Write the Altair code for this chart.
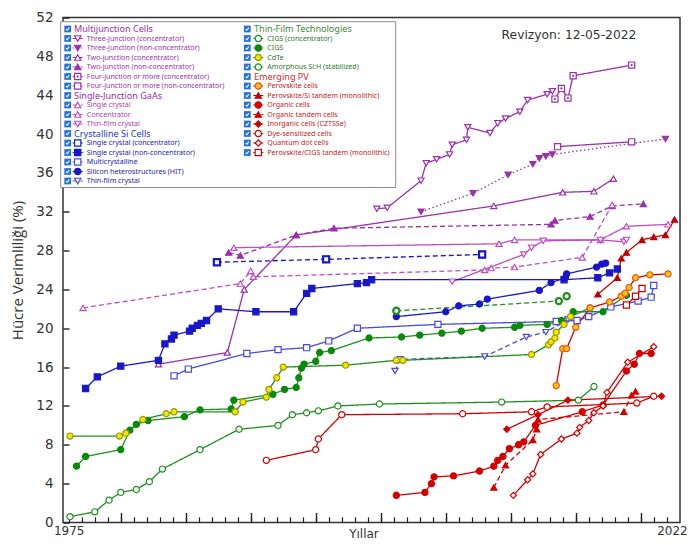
import altair as alt
import pandas as pd

# ---------------- data: (year, efficiency %) ----------------
three_junction_conc = [(1999.7, 32.3), (2000.5, 32.4), (2003.1, 35.2), (2003.5, 37.0), (2004.3, 37.4),
                       (2005.3, 37.9), (2005.5, 38.9), (2006.6, 39.4), (2006.7, 40.7), (2008.4, 40.1),
                       (2009.0, 41.1), (2009.6, 41.6), (2010.7, 42.3), (2011.3, 43.5), (2012.8, 44.1),
                       (2013.2, 44.4)]
three_junction_nonconc = [(2003.1, 32.0), (2007.1, 33.9), (2009.8, 35.8), (2011.7, 36.9), (2012.2, 37.5),
                          (2012.7, 37.7), (2013.2, 37.9), (2021.9, 39.5)]
two_junction_conc = [(1982.9, 16.3), (1988.2, 17.5), (1989.5, 24.0), (1993.5, 29.6), (2008.7, 32.6),
                     (2014.0, 34.0), (2016.4, 34.1), (2017.9, 35.4)]
two_junction_nonconc = [(1988.3, 27.8), (1989.2, 27.5), (1993.5, 29.6), (1996.4, 30.3), (2013.1, 30.7),
                        (2013.4, 31.1), (2016.1, 31.5), (2017.8, 32.6), (2020.2, 32.8)]
four_junction_conc = [(2013.4, 43.6), (2013.9, 44.7), (2014.4, 43.7), (2014.8, 46.0), (2019.3, 47.1)]
four_junction_nonconc = [(2013.6, 38.7), (2019.3, 39.2)]
gaas_single = [(1977.1, 22.1), (1989.2, 24.6), (1990.0, 25.9), (1990.2, 25.3), (2008.0, 26.0),
               (2008.5, 26.2), (2010.3, 26.3), (2015.5, 27.3), (2017.8, 32.7)]
gaas_conc = [(1988.7, 28.3), (2009.1, 28.7), (2010.3, 29.1), (2016.9, 29.1), (2018.9, 30.5), (2022.1, 30.7)]
gaas_thin = [(2005.5, 24.8), (2011.0, 27.6), (2011.6, 28.3), (2012.5, 29.0), (2016.9, 29.1),
             (2018.7, 28.9), (2018.9, 29.1)]
si_conc = [(1987.4, 26.8), (1995.8, 27.1), (2007.8, 27.6)]
si_single = [(1977.3, 13.8), (1978.2, 15.0), (1980.0, 16.1), (1982.9, 16.7), (1983.4, 18.4), (1983.9, 18.9),
             (1984.1, 19.3), (1985.3, 19.7), (1985.5, 20.0), (1985.9, 20.3), (1986.2, 20.5), (1986.6, 20.8),
             (1987.5, 22.0), (1990.4, 21.7), (1993.3, 21.7), (1994.3, 23.6), (1994.7, 24.1), (1998.2, 24.6),
             (1998.9, 24.7), (1999.3, 25.0), (2014.1, 25.0), (2016.7, 25.2), (2017.6, 25.7), (2018.2, 26.1)]
si_multi = [(1984.1, 15.1), (1985.2, 15.8), (1989.7, 17.4), (1992.1, 17.8), (1994.3, 18.0), (1996.0, 18.7),
            (1998.2, 20.0), (2004.4, 20.4), (2013.5, 20.7), (2015.1, 20.8), (2016.0, 21.2), (2017.7, 22.2),
            (2019.8, 22.8), (2020.8, 23.2), (2021.0, 24.4)]
si_hit = [(2001.2, 21.2), (2005.0, 21.7), (2006.0, 22.3), (2007.6, 22.5), (2008.2, 23.0), (2012.2, 23.9),
          (2013.1, 24.7), (2014.2, 25.2), (2014.3, 25.6), (2016.6, 26.3), (2017.0, 26.6), (2017.3, 26.7)]
si_thin = [(2001.1, 15.6), (2001.5, 16.8), (2008.0, 17.1), (2011.2, 19.1), (2012.7, 19.6), (2014.4, 20.9)]
cigs_conc = [(2001.2, 21.8), (2013.7, 22.8), (2014.3, 23.3)]
cigs = [(1976.6, 5.8), (1977.3, 6.8), (1980.0, 7.5), (1980.7, 9.5), (1981.2, 10.1), (1982.1, 10.5),
        (1984.9, 10.9), (1986.1, 11.6), (1988.5, 11.7), (1988.7, 12.6), (1991.7, 13.2), (1992.6, 13.7),
        (1993.5, 13.9), (1993.7, 14.9), (1993.9, 15.9), (1994.1, 16.3), (1995.0, 16.6), (1995.3, 17.5),
        (1996.2, 17.7), (1999.1, 19.0), (2001.6, 19.1), (2003.0, 19.3), (2004.7, 19.5), (2006.2, 19.7),
        (2007.8, 20.0), (2010.3, 20.1), (2010.7, 20.3), (2012.8, 20.4), (2013.9, 20.8), (2014.8, 21.7),
        (2017.1, 21.7), (2018.9, 23.4)]
cdte = [(1976.1, 8.9), (1979.9, 8.9), (1980.4, 9.2), (1981.7, 10.6), (1983.5, 11.2), (1984.1, 11.4),
        (1988.8, 11.4), (1989.4, 12.4), (1991.2, 12.9), (1991.4, 13.7), (1992.0, 14.9), (1992.5, 16.0),
        (1997.3, 16.2), (2001.2, 16.7), (2001.7, 16.7), (2011.6, 17.3), (2012.9, 18.3), (2013.1, 18.6),
        (2013.4, 19.0), (2013.5, 19.6), (2014.1, 20.4), (2014.6, 21.2), (2016.1, 22.1)]
amorphous_si = [(1976.1, 0.6), (1978.0, 1.1), (1979.1, 2.3), (1980.0, 3.1), (1981.2, 3.4), (1982.2, 4.2),
                (1983.2, 5.5), (1986.1, 7.5), (1989.1, 9.6), (1992.1, 10.0), (1993.2, 11.1), (1994.3, 11.3),
                (1995.2, 11.5), (1996.7, 12.0), (1999.9, 12.2), (2009.3, 12.4), (2015.2, 12.6), (2016.4, 14.0)]
perovskite = [(2013.5, 14.1), (2014.0, 17.9), (2014.3, 17.9), (2015.0, 20.1), (2016.1, 22.1), (2017.6, 22.7),
              (2018.5, 23.3), (2018.8, 23.6), (2019.1, 24.2), (2019.6, 25.2), (2020.7, 25.5), (2022.1, 25.6)]
perovskite_si = [(2016.7, 23.5), (2018.2, 25.2), (2018.5, 27.2), (2018.9, 27.8), (2020.1, 29.1),
                 (2021.0, 29.4), (2021.9, 29.6), (2022.6, 31.2)]
organic = [(2001.2, 2.8), (2003.4, 3.1), (2003.9, 4.0), (2004.1, 4.7), (2005.6, 4.8), (2007.6, 5.3),
           (2008.7, 5.8), (2009.0, 6.4), (2009.4, 6.8), (2009.9, 7.6), (2010.6, 8.0), (2011.0, 8.3),
           (2011.9, 10.0), (2015.5, 11.4), (2017.1, 12.1), (2018.9, 15.6), (2019.5, 16.3), (2019.9, 17.4),
           (2020.8, 17.4)]
organic_tandem = [(2008.7, 3.6), (2009.6, 5.9), (2011.7, 8.5), (2012.0, 9.6), (2012.1, 10.6), (2018.7, 11.4),
                  (2019.3, 13.1), (2019.6, 13.5)]
czts = [(2009.7, 9.6), (2012.1, 11.1), (2014.4, 12.6), (2021.6, 13.0)]
dye = [(1991.2, 6.4), (1995.0, 7.5), (1995.2, 8.6), (1997.0, 11.1), (2006.3, 11.2), (2011.6, 11.4),
       (2012.8, 11.9), (2019.7, 12.3), (2021.0, 13.0)]
quantum_dot = [(2010.2, 2.8), (2011.3, 4.4), (2011.7, 5.0), (2012.3, 7.0), (2013.9, 8.6), (2015.1, 9.2),
               (2015.3, 9.8), (2016.0, 10.5), (2016.4, 11.3), (2017.1, 12.0), (2017.4, 13.4), (2019.0, 16.5),
               (2021.0, 18.1)]
perovskite_cigs = [(2018.9, 22.4), (2019.6, 23.3), (2020.1, 24.1)]

x_minor_ticks = list(range(1976, 2023))
x_major_ticks = list(range(1980, 2021, 5))
x_label_values = [1976, 2022.4]
y_ticks = list(range(0, 53, 4))

# ---------------- styles ----------------
MJ, GA, SI, SIM, GR, RD = "#9a30ac", "#c04cc4", "#1818c8", "#4a4ae0", "#1f8f1f", "#d40000"
W = "white"
SOLID, DASH, DOT = [1, 0], [5, 3], [1.5, 2.5]

series = [
    ("mj3c", three_junction_conc, MJ, SOLID, "triangle-down", W, MJ),
    ("mj3n", three_junction_nonconc, MJ, DOT, "triangle-down", MJ, MJ),
    ("mj2c", two_junction_conc, MJ, SOLID, "triangle-up", W, MJ),
    ("mj2n", two_junction_nonconc, MJ, DASH, "triangle-up", MJ, MJ),
    ("mj4c", four_junction_conc, MJ, SOLID, "square", W, MJ),
    ("mj4n", four_junction_nonconc, MJ, SOLID, "square", W, MJ),
    ("gas", gaas_single, GA, DASH, "triangle-up", W, GA),
    ("gac", gaas_conc, GA, SOLID, "triangle-up", W, GA),
    ("gat", gaas_thin, GA, SOLID, "triangle-down", W, GA),
    ("sic", si_conc, SI, DASH, "square", W, SI),
    ("sin", si_single, SI, SOLID, "square", SI, SI),
    ("sim", si_multi, SIM, SOLID, "square", W, SIM),
    ("sih", si_hit, SI, SOLID, "circle", SI, SI),
    ("sit", si_thin, SIM, DASH, "triangle-down", W, SIM),
    ("tfcc", cigs_conc, GR, DASH, "circle", W, GR),
    ("tfc", cigs, GR, SOLID, "circle", "#0a8a0a", "#0a8a0a"),
    ("tfd", cdte, GR, SOLID, "circle", "#f0e600", "#9a9a00"),
    ("tfa", amorphous_si, GR, SOLID, "circle", W, GR),
    ("epp", perovskite, RD, SOLID, "circle", "#ffc20e", "#e8561c"),
    ("eps", perovskite_si, RD, SOLID, "triangle-up", "#c00000", "#c00000"),
    ("epo", organic, RD, SOLID, "circle", RD, RD),
    ("ept", organic_tandem, RD, DASH, "triangle-up", RD, RD),
    ("epi", czts, RD, SOLID, "diamond", RD, RD),
    ("epd", dye, RD, SOLID, "circle", W, RD),
    ("epq", quantum_dot, RD, SOLID, "diamond", W, RD),
    ("epc", perovskite_cigs, RD, SOLID, "square", W, RD),
]
keys = [s[0] for s in series]

df = pd.DataFrame([dict(key=s[0], idx=i, year=p[0], eff=p[1])
                   for s in series for i, p in enumerate(s[1])])

color_sc = alt.Scale(domain=keys, range=[s[2] for s in series])
dash_sc = alt.Scale(domain=keys, range=[s[3] for s in series])
shape_sc = alt.Scale(domain=keys, range=[s[4] for s in series])
fill_sc = alt.Scale(domain=keys, range=[s[5] for s in series])
stroke_sc = alt.Scale(domain=keys, range=[s[6] for s in series])

xs = alt.Scale(domain=[1975.56, 2023.02], nice=False, zero=False)
ys = alt.Scale(domain=[0, 52], nice=False, zero=False)

TICK = "#222222"
ax_minor = alt.Axis(values=x_minor_ticks, tickSize=5.7, offset=-5.7, labels=False, domain=False, grid=False,
                    title=None, orient="bottom", tickColor=TICK, tickWidth=1.2)
ax_major = alt.Axis(values=x_major_ticks, tickSize=10, offset=-10, labels=False, domain=False, grid=False,
                    title=None, orient="bottom", tickColor=TICK, tickWidth=1.4)
ax_labels = alt.Axis(values=x_label_values, labelExpr="datum.value < 2000 ? '1975' : '2022'",
                     ticks=False, tickSize=0, domain=False, grid=False, orient="bottom",
                     labelPadding=3, labelFont="DejaVu Sans", labelFontSize=12, labelColor="#333",
                     labelFlush=False, labelOverlap=False,
                     title="Yıllar", titleX=300.5, titleY=15, titleBaseline="alphabetic", titleAngle=0,
                     titleFont="DejaVu Sans", titleFontSize=12, titleFontWeight="normal", titleColor="#333")
ax_y = alt.Axis(values=y_ticks, tickSize=6, offset=-6, domain=False, grid=False, labelPadding=10,
                labelFont="DejaVu Sans", labelFontSize=13.5, labelColor="#333", tickColor=TICK, tickWidth=1.4,
                title="Hücre Verimliliği (%)", titleFont="Open Sans", titleFontSize=15,
                titleFontWeight="normal", titleColor="#333", titlePadding=10)
Y = alt.Y("eff:Q", scale=ys, axis=ax_y)

base = alt.Chart(df)
lines = base.mark_line(strokeWidth=1.3).encode(
    x=alt.X("year:Q", scale=xs, axis=ax_minor), y=Y,
    color=alt.Color("key:N", scale=color_sc, legend=None),
    strokeDash=alt.StrokeDash("key:N", scale=dash_sc, legend=None),
    detail="key:N", order="idx:Q")
marker_enc = dict(
    shape=alt.Shape("key:N", scale=shape_sc, legend=None),
    fill=alt.Fill("key:N", scale=fill_sc, legend=None),
    stroke=alt.Stroke("key:N", scale=stroke_sc, legend=None))
points = base.mark_point(filled=True, size=38, strokeWidth=1.2, opacity=1).encode(
    x=alt.X("year:Q", scale=xs, axis=ax_major), y=Y, **marker_enc)
thick = base.transform_filter(alt.FieldOneOfPredicate(field="key", oneOf=["sic", "tfcc"])).mark_point(
    filled=True, size=38, strokeWidth=2.2, opacity=1).encode(
    x=alt.X("year:Q", scale=xs, axis=None), y=Y, **marker_enc)
dots = base.transform_filter(alt.datum.key == "mj4c").mark_point(
    filled=True, shape="circle", size=5, color=MJ, opacity=1).encode(
    x=alt.X("year:Q", scale=xs, axis=ax_labels), y=Y)
note_df = pd.DataFrame({"year": [2014.48], "eff": [49.81], "t": ["Revizyon: 12-05-2022"]})
note = alt.Chart(note_df).mark_text(align="center", baseline="alphabetic", font="DejaVu Sans",
                                     fontSize=12.3, color="#333").encode(
    x=alt.X("year:Q", scale=xs, axis=None), y=Y, text="t:N")

data_group = alt.layer(lines, points, thick, dots, note).resolve_axis(x="independent")

# ---------------- legend (manual, two columns) ----------------
HEAD = {"mj": "#9a2cac", "ga": "#9a2cac", "si": "#1f3cc0", "tf": "#3a8a3a", "ep": "#d42a2a"}
ITEM = {"mj": "#9a30ac", "ga": "#a83cb0", "si": "#2222aa", "tf": "#2a7a2a", "ep": "#cc2222"}
legend_col1 = [("Multijunction Cells", None, "mj"),
               ("Three-junction (concentrator)", "mj3c", "mj"),
               ("Three-junction (non-concentrator)", "mj3n", "mj"),
               ("Two-junction (concentrator)", "mj2c", "mj"),
               ("Two-junction (non-concentrator)", "mj2n", "mj"),
               ("Four-junction or more (concentrator)", "mj4c", "mj"),
               ("Four-junction or more (non-concentrator)", "mj4n", "mj"),
               ("Single-Junction GaAs", None, "ga"),
               ("Single crystal", "gas", "ga"),
               ("Concentrator", "gac", "ga"),
               ("Thin-film crystal", "gat", "ga"),
               ("Crystalline Si Cells", None, "si"),
               ("Single crystal (concentrator)", "sic", "si"),
               ("Single crystal (non-concentrator)", "sin", "si"),
               ("Multicrystalline", "sim", "si"),
               ("Silicon heterostructures (HIT)", "sih", "si"),
               ("Thin-film crystal", "sit", "si")]
legend_col2 = [("Thin-Film Technologies", None, "tf"),
               ("CIGS (concentrator)", "tfcc", "tf"),
               ("CIGS", "tfc", "tf"),
               ("CdTe", "tfd", "tf"),
               ("Amorphous Si:H (stabilized)", "tfa", "tf"),
               ("Emerging PV", None, "ep"),
               ("Perovskite cells", "epp", "ep"),
               ("Perovskite/Si tandem (monolithic)", "eps", "ep"),
               ("Organic cells", "epo", "ep"),
               ("Organic tandem cells", "ept", "ep"),
               ("Inorganic cells (CZTSSe)", "epi", "ep"),
               ("Dye-sensitized cells", "epd", "ep"),
               ("Quantum dot cells", "epq", "ep"),
               ("Perovskite/CIGS tandem (monolithic)", "epc", "ep")]

COLS = [dict(cb=4.7, sym=14.7, item=23.7, head=11.0), dict(cb=184.3, sym=195.3, item=204.3, head=191.0)]
ROW0, ROWH = 11.5, 9.5
rows = []
for c, entries in enumerate([legend_col1, legend_col2]):
    L = COLS[c]
    for r, (label, key, grp) in enumerate(entries):
        head = key is None
        rows.append(dict(label=label, key=key if key else "", head=head, y=ROW0 + ROWH * r,
                         cbx=L["cb"], symx=L["sym"], x1=L["sym"] - 5, x2=L["sym"] + 5,
                         tx=L["head"] if head else L["item"],
                         tcolor=HEAD[grp] if head else ITEM[grp]))
leg = pd.DataFrame(rows)
items = leg[~leg["head"]]
heads = leg[leg["head"]]
box_df = pd.DataFrame({"x": [-2.3], "x2": [332.7], "y": [4.2], "y2": [170.0]})

lxs = alt.Scale(domain=[0, 617], nice=False, zero=False)
lys = alt.Scale(domain=[0, 505], reverse=True, nice=False, zero=False)
LX = lambda f: alt.X(f"{f}:Q", scale=lxs, axis=None)
LY = lambda f: alt.Y(f"{f}:Q", scale=lys, axis=None)
CHECK = "M-0.7,0.05L-0.2,0.55L0.7,-0.6"

box = alt.Chart(box_df).mark_rect(fill="white", stroke="#8c8c8c", strokeWidth=1).encode(
    x=LX("x"), x2="x2", y=LY("y"), y2="y2")
cbox = alt.Chart(leg).mark_square(size=46, color="#2574dc", opacity=1).encode(x=LX("cbx"), y=LY("y"))
ctick = alt.Chart(leg).mark_point(shape=CHECK, size=20, stroke="white", strokeWidth=1.1,
                                  filled=False, opacity=1).encode(x=LX("cbx"), y=LY("y"))
stubs = alt.Chart(items).mark_rule(strokeWidth=1.2).encode(
    x=LX("x1"), x2="x2", y=LY("y"),
    color=alt.Color("key:N", scale=color_sc, legend=None),
    strokeDash=alt.StrokeDash("key:N", scale=dash_sc, legend=None))
lmarks = alt.Chart(items).mark_point(filled=True, size=40, strokeWidth=1.2, opacity=1).encode(
    x=LX("symx"), y=LY("y"), **marker_enc)
ldot = alt.Chart(items).transform_filter(alt.datum.key == "mj4c").mark_point(
    filled=True, shape="circle", size=5, color=MJ, opacity=1).encode(x=LX("symx"), y=LY("y"))
htext = alt.Chart(heads).mark_text(align="left", baseline="middle", font="Noto Sans", fontSize=9.1).encode(
    x=LX("tx"), y=LY("y"), text="label:N", color=alt.Color("tcolor:N", scale=None))
itext = alt.Chart(items).mark_text(align="left", baseline="middle", font="Noto Sans", fontSize=7.1).encode(
    x=LX("tx"), y=LY("y"), text="label:N", color=alt.Color("tcolor:N", scale=None))

legend_group = alt.layer(box, cbox, ctick, stubs, lmarks, ldot, htext, itext)

chart = alt.layer(data_group, legend_group).resolve_scale(x="independent", y="independent").properties(
    width=617, height=505,
    autosize=alt.AutoSizeParams(type="none"),
    padding={"left": 55, "top": 9.5, "right": 8, "bottom": 22},
).configure_view(stroke="#333333", strokeWidth=1.5)

chart.save("out.html", embed_options={"renderer": "svg", "actions": False})
